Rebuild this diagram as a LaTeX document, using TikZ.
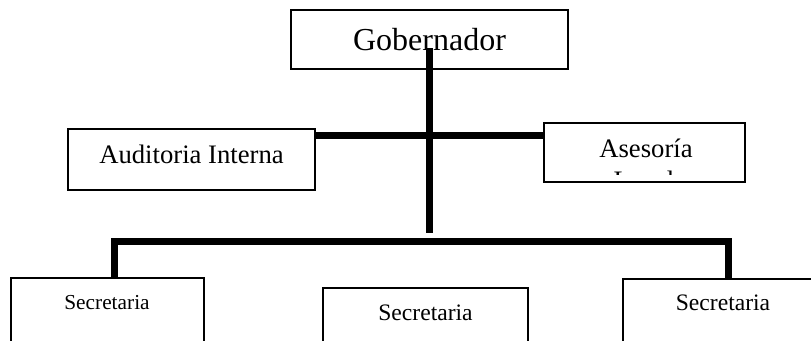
\documentclass[tikz,border=0pt]{standalone}
\usepackage{fontspec}
\setmainfont{Liberation Serif}
\tikzset{
  caja/.style={draw, rectangle, line width=1.3pt, inner sep=0pt},
  texto/.style={anchor=base, inner sep=0pt},
  linea/.style={line width=5.25pt}
}
\begin{document}
\begin{tikzpicture}[x=0.75pt, y=-0.75pt]
      \useasboundingbox (0,0) rectangle (811,340);
      \clip (0,0) rectangle (811,340);

      % Boxes
      \node[caja, minimum width=207.75pt, minimum height=44.25pt] (gob) at (429.5,39.5) {};
      \node[caja, minimum width=185.25pt, minimum height=45.75pt] (aud) at (191.5,159.5) {};
      \node[caja, minimum width=150.75pt, minimum height=44.25pt] (ases) at (644.5,152.5) {};
      \node[caja, minimum width=144.75pt, minimum height=54pt] (sec1) at (107.5,314) {};
      \node[caja, minimum width=153.75pt, minimum height=46.5pt] (sec2) at (425.5,319) {};
      \node[caja, minimum width=150pt, minimum height=53.25pt] (sec3) at (723,314.5) {};

      % Texts
      \node[texto, font=\fontsize{24}{29}\selectfont] (gobtxt) at (429.5,50) {Gobernador};
      \node[texto, font=\fontsize{20}{24}\selectfont] (audtxt) at (191.5,163) {Auditoria Interna};
      \begin{scope}
        % the second line is cut off by the box margin
        \clip (ases.north west) rectangle (ases.east |- 0,174);
        \node[texto, font=\fontsize{20}{24}\selectfont] (asestxt) at (646,157) {Asesoría};
        \node[texto, font=\fontsize{20}{24}\selectfont] (asestxtb) at (644,189) {Legal};
      \end{scope}
      \node[texto, font=\fontsize{16}{19}\selectfont] (sec1txt) at (107,309) {Secretaria};
      \node[texto, font=\fontsize{17.7}{21}\selectfont] (sec2txt) at (425.5,320) {Secretaria};
      \node[texto, font=\fontsize{17.7}{21}\selectfont] (sec3txt) at (723,310) {Secretaria};

      % Connectors
      \coordinate (arriba) at (429.5,48);
      \coordinate (abajo) at (429.5,233);
      \coordinate (cruce) at (429.5,135.5);
      \coordinate (b1) at (114,241);
      \coordinate (b2) at (728,241);
      \draw[linea] (arriba) -- (abajo);
      \draw[linea] (aud.east |- cruce) -- (ases.west |- cruce);
      \draw[linea] (b1 |- sec1.north) -- (b1) -- (b2) -- (b2 |- sec3.north);
\end{tikzpicture}
\end{document}
